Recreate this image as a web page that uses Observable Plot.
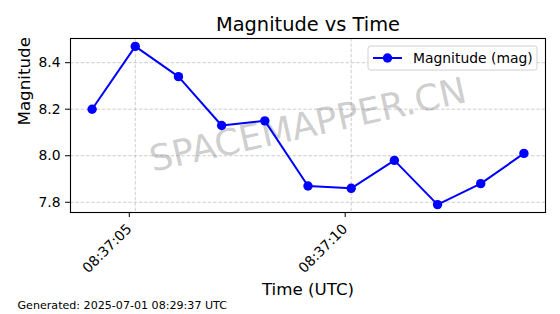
<!DOCTYPE html>
<html>
<head>
<meta charset="utf-8">
<script src="https://cdn.jsdelivr.net/npm/d3@7"></script>
<script src="https://cdn.jsdelivr.net/npm/@observablehq/plot@0.6"></script>
<style>
  html, body { margin: 0; padding: 0; background: white; }
  #chart { width: 560px; height: 314px; }
</style>
</head>
<body>
<div id="chart"></div>
<script>
const dateStr = "2025-07-01";
const times = ["08:37:04","08:37:05","08:37:06","08:37:07","08:37:08","08:37:09","08:37:10","08:37:11","08:37:12","08:37:13","08:37:14"];
const magnitudes = [8.20, 8.47, 8.34, 8.13, 8.15, 7.87, 7.86, 7.98, 7.79, 7.88, 8.01];
const xTickLabels = ["08:37:05", "08:37:10"];
const yTicks = [7.8, 8.0, 8.2, 8.4];
const titleText = "Magnitude vs Time";
const xLabel = "Time (UTC)";
const yLabel = "Magnitude";
const legendLabel = "Magnitude (mag)";
const watermark = "SPACEMAPPER.CN";
const footer = "Generated: 2025-07-01 08:29:37 UTC";

const toDate = t => new Date(`${dateStr}T${t}Z`);
const data = times.map((t, i) => ({time: toDate(t), mag: magnitudes[i]}));
const xTicks = xTickLabels.map(toDate);

const tExt = d3.extent(data, d => +d.time);
const tPad = (tExt[1] - tExt[0]) * 0.05;
const xDomain = [new Date(tExt[0] - tPad), new Date(tExt[1] + tPad)];
const yExt = d3.extent(magnitudes);
const yPad = (yExt[1] - yExt[0]) * 0.05;
const yDomain = [yExt[0] - yPad, yExt[1] + yPad];

const FONT = "DejaVu Sans";
const blue = "#0000ff";
const gridStyle = {stroke: "#b0b0b0", strokeOpacity: 0.8, strokeWidth: 0.8, strokeDasharray: "3.5,1.8"};

const W = 560, H = 314;
const mL = 70, mR = 15, mT = 38, mB = 102;

const chart = Plot.plot({
  width: W, height: H,
  marginLeft: mL, marginRight: mR, marginTop: mT, marginBottom: mB,
  style: {fontFamily: FONT, fontSize: "13.9px", background: "white", color: "black", overflow: "visible"},
  x: {type: "utc", domain: xDomain},
  y: {type: "linear", domain: yDomain},
  marks: [
    Plot.gridX(xTicks, gridStyle),
    Plot.gridY(yTicks, gridStyle),
    Plot.text([watermark], {text: d => d, frameAnchor: "middle", rotate: -12.5, fontSize: 36, fill: "#808080", fillOpacity: 0.4}),
    Plot.line(data, {x: "time", y: "mag", stroke: blue, strokeWidth: 2}),
    Plot.dot(data, {x: "time", y: "mag", r: 4.7, fill: blue, stroke: "none"}),
    Plot.frame({stroke: "black", strokeWidth: 1.1}),
    Plot.axisY({ticks: yTicks, tickFormat: d3.format(".1f"), tickSize: 5, tickPadding: 5, label: null, fontSize: 13.9}),
    Plot.axisX({ticks: xTicks, tickFormat: d3.utcFormat("%H:%M:%S"), tickRotate: -45, tickSize: 5, tickPadding: 9, dx: -6, label: null, fontSize: 13.9}),
    Plot.text([titleText], {text: d => d, frameAnchor: "top", dy: -14, lineAnchor: "middle", fontSize: 19.4}),
    Plot.text([xLabel], {text: d => d, frameAnchor: "bottom", dy: 77, lineAnchor: "middle", fontSize: 16.7}),
    Plot.text([yLabel], {text: d => d, frameAnchor: "left", dx: -46, rotate: -90, lineAnchor: "middle", fontSize: 16.7}),
    Plot.text([footer], {text: d => d, frameAnchor: "bottom-left", dx: -53, dy: 93, textAnchor: "start", lineAnchor: "middle", fontSize: 11.1})
  ]
});

// Legend (upper right inside axes)
const svg = d3.select(chart);
const fr = W - mR; // frame right
const lg = svg.append("g").attr("font-family", FONT).attr("font-size", 13.9).attr("text-anchor", "start");
const bx = fr - 177, by = mT + 8, bw = 169, bh = 24;
lg.append("rect").attr("x", bx).attr("y", by).attr("width", bw).attr("height", bh)
  .attr("rx", 2.5).attr("fill", "white").attr("fill-opacity", 0.8)
  .attr("stroke", "#d0d0d0").attr("stroke-width", 1);
lg.append("line").attr("x1", bx + 5).attr("x2", bx + 34).attr("y1", by + bh / 2).attr("y2", by + bh / 2)
  .attr("stroke", blue).attr("stroke-width", 2);
lg.append("circle").attr("cx", bx + 19.5).attr("cy", by + bh / 2).attr("r", 4.7).attr("fill", blue);
lg.append("text").attr("x", bx + 45).attr("y", by + bh / 2).attr("dy", "0.35em").attr("fill", "black")
  .attr("text-anchor", "start").text(legendLabel);

document.getElementById("chart").appendChild(chart);
</script>
</body>
</html>
